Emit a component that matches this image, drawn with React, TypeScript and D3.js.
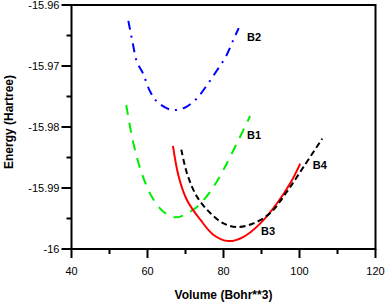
import React from "react";
import * as d3 from "d3";

const W = 387;
const H = 304;

const xTicks = [40, 60, 80, 100, 120];
const xMinorTicks = [50, 70, 90, 110];
const yTicks = [-15.96, -15.97, -15.98, -15.99, -16];
const yMinorTicks = [-15.965, -15.975, -15.985, -15.995];
const yTickLabels = ["-15.96", "-15.97", "-15.98", "-15.99", "-16"];

const b2Vol = [54.96, 56.1, 57.2, 58.8, 60.7, 62.6, 66.4, 69.9, 73.0, 75.8, 78.3, 80.5, 82.6, 84.0];
const b2E = [-15.9626, -15.9662, -15.9693, -15.9712, -15.9742, -15.9759, -15.9772, -15.9768, -15.9753, -15.973, -15.9707, -15.9686, -15.9657, -15.9638];

const b1Vol = [54.4, 56.3, 58.5, 61.1, 64.2, 67.3, 69.0, 73.0, 76.5, 80.0, 83.5, 87.0];
const b1E = [-15.9764, -15.9827, -15.9876, -15.9914, -15.9939, -15.9948, -15.9946, -15.9931, -15.9906, -15.987, -15.9827, -15.9782];

const b3Vol = [66.7, 68.2, 70.4, 73.9, 77.4, 81.3, 85.3, 89.7, 94.1, 97.6, 100.2];
const b3E = [-15.9831, -15.9881, -15.992, -15.9952, -15.9977, -15.9987, -15.998, -15.9958, -15.9925, -15.9892, -15.986];

const b4Vol = [68.9, 70.4, 73.0, 76.5, 80.0, 83.5, 87.9, 92.3, 96.7, 101.1, 106.0];
const b4E = [-15.9837, -15.9876, -15.9914, -15.9941, -15.9958, -15.9964, -15.9958, -15.9941, -15.9906, -15.9865, -15.9819];

const seriesNames = ["B2", "B1", "B3", "B4"];

export default function App() {
  const x = d3.scaleLinear().domain([40, 120]).range([71.5, 375.5]);
  const y = d3.scaleLinear().domain([-15.96, -16]).range([5, 249]);

  const line = d3
    .line<[number, number]>()
    .x((d) => x(d[0]))
    .y((d) => y(d[1]))
    .curve(d3.curveCatmullRom.alpha(0.5));

  const mk = (v: number[], e: number[]) => v.map((vv, i) => [vv, e[i]] as [number, number]);

  const series = [
    { name: seriesNames[0], d: mk(b2Vol, b2E), color: "#0000ff", dash: "9,6,2,6" },
    { name: seriesNames[1], d: mk(b1Vol, b1E), color: "#00ee00", dash: "10,8" },
    { name: seriesNames[2], d: mk(b3Vol, b3E), color: "#ff0000", dash: "none" },
    { name: seriesNames[3], d: mk(b4Vol, b4E), color: "#000000", dash: "6,3.5" },
  ];

  const labels = [
    { name: seriesNames[0], vx: 86.2, vy: -15.9652 },
    { name: seriesNames[1], vx: 86.2, vy: -15.9813 },
    { name: seriesNames[2], vx: 89.9, vy: -15.997 },
    { name: seriesNames[3], vx: 103.5, vy: -15.9863 },
  ];

  const x0 = x.range()[0];
  const x1 = x.range()[1];
  const y0 = y.range()[0];
  const y1 = y.range()[1];

  return (
    <svg
      width={W}
      height={H}
      style={{ position: "absolute", left: 0, top: 0, background: "#fff" }}
      fontFamily="Liberation Sans, Arial, sans-serif"
    >
      <rect x={0} y={0} width={W} height={H} fill="#fff" />
      {series.map((s) => (
        <path
          key={s.name}
          d={line(s.d) || ""}
          fill="none"
          stroke={s.color}
          strokeWidth={2}
          strokeDasharray={s.dash}
        />
      ))}
      {/* frame */}
      <rect x={x0} y={y0} width={x1 - x0} height={y1 - y0} fill="none" stroke="#000" strokeWidth={2} />
      {/* y ticks */}
      {yTicks.map((t, i) => (
        <g key={"yt" + i}>
          <line x1={x0 - 10} x2={x0} y1={y(t)} y2={y(t)} stroke="#000" strokeWidth={2} />
          <text x={x0 - 12} y={y(t)} dy="0.35em" textAnchor="end" fontSize={11} fill="#000">
            {yTickLabels[i]}
          </text>
        </g>
      ))}
      {yMinorTicks.map((t, i) => (
        <line key={"ym" + i} x1={x0 - 5} x2={x0} y1={y(t)} y2={y(t)} stroke="#000" strokeWidth={2} />
      ))}
      {/* x ticks */}
      {xTicks.map((t, i) => (
        <g key={"xt" + i}>
          <line x1={x(t)} x2={x(t)} y1={y1} y2={y1 + 9} stroke="#000" strokeWidth={2} />
          <text x={x(t)} y={y1 + 26} textAnchor="middle" fontSize={11} fill="#000">
            {String(t)}
          </text>
        </g>
      ))}
      {xMinorTicks.map((t, i) => (
        <line key={"xm" + i} x1={x(t)} x2={x(t)} y1={y1} y2={y1 + 5} stroke="#000" strokeWidth={2} />
      ))}
      {/* series labels */}
      {labels.map((l) => (
        <text key={"l" + l.name} x={x(l.vx)} y={y(l.vy)} dy="0.35em" fontSize={11} fontWeight="bold" fill="#000">
          {l.name}
        </text>
      ))}
      {/* axis titles */}
      <text x={(x0 + x1) / 2} y={299} textAnchor="middle" fontSize={12} fontWeight="bold" fill="#000">
        Volume (Bohr**3)
      </text>
      <text
        transform={`translate(13,${(y0 + y1) / 2 - 5}) rotate(-90)`}
        textAnchor="middle"
        fontSize={12}
        fontWeight="bold"
        fill="#000"
      >
        Energy (Hartree)
      </text>
    </svg>
  );
}
